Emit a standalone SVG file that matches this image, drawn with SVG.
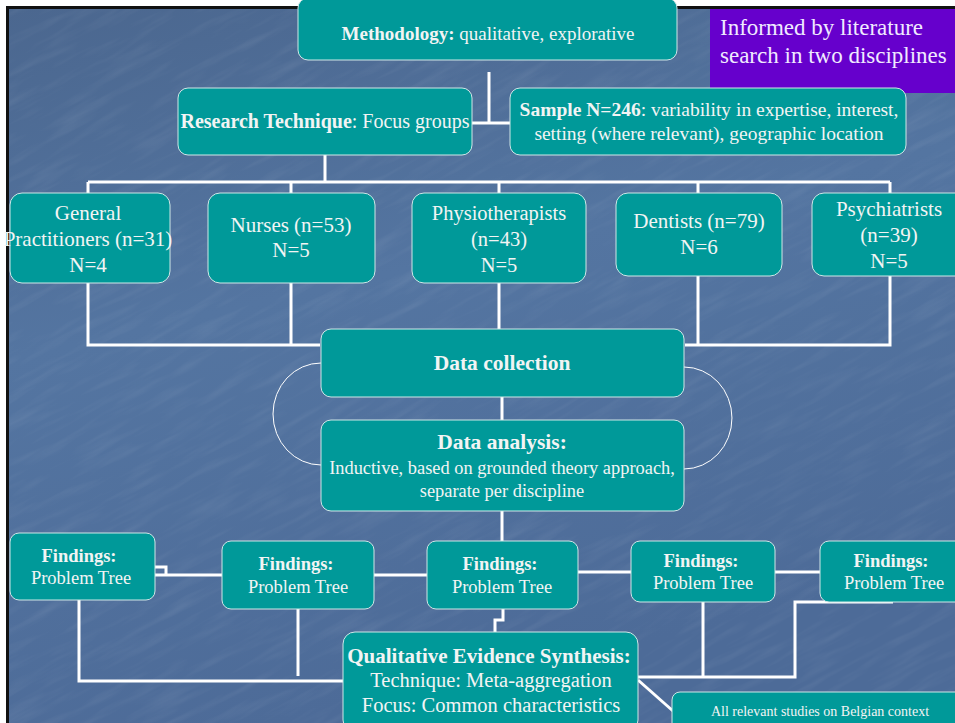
<svg xmlns="http://www.w3.org/2000/svg" width="955" height="723" viewBox="0 0 955 723">
<defs>
<linearGradient id="bg" x1="0" y1="0" x2="0.3" y2="1">
<stop offset="0" stop-color="#4b678f"/>
<stop offset="0.45" stop-color="#5475a1"/>
<stop offset="1" stop-color="#4d6b98"/>
</linearGradient>
<filter id="tex" x="0" y="0" width="100%" height="100%">
<feTurbulence type="fractalNoise" baseFrequency="0.015 0.12" numOctaves="3" seed="4" result="n"/>
<feColorMatrix type="matrix" values="0 0 0 0 1  0 0 0 0 1  0 0 0 0 1  0 0 0 -2.2 1.2"/>
</filter>
<style>
.box{fill:#009999;stroke:#cfe7e7;stroke-width:1}
.t{font-family:"Liberation Serif","Times New Roman",serif;fill:#f2f4f4;text-anchor:middle}
.b{font-weight:bold}
.c{fill:none;stroke:#ffffff;stroke-width:3}
.arc{fill:none;stroke:#ffffff;stroke-width:1}
</style>
</defs>
<rect x="0" y="0" width="955" height="723" fill="#ffffff"/>
<rect x="6" y="6" width="949" height="717" fill="#111111"/>
<rect x="9" y="9" width="946" height="714" fill="url(#bg)"/>
<svg x="9" y="9" width="946" height="714" overflow="hidden">
<g transform="rotate(-28 470 350)" opacity="0.06">
<rect x="-300" y="-300" width="1560" height="1330" filter="url(#tex)"/>
</g>
</svg>

<g id="connectors">
<path class="c" d="M489,72 V123 M472,123 H510"/>
<path class="c" d="M325,155 V182 M88,182 H890 M88,182 V193 M291,182 V193 M499,182 V193 M698,182 V193 M890,182 V193"/>
<path class="c" d="M88,283 V345 H320 M291,283 V345"/>
<path class="c" d="M499,283 V330"/>
<path class="c" d="M698,276 V345 H890 V276 M685,345 H698"/>
<path class="c" d="M502,397 V420"/>
<path class="arc" d="M321,363 A48,51 0 0,0 321,465"/>
<path class="arc" d="M684,367 A48,51 0 0,1 684,469"/>
<path class="c" d="M502,511 V541"/>
<path class="c" d="M155,567 H166 V575 M155,575 H222"/>
<path class="c" d="M374,575 H427"/>
<path class="c" d="M578,572 H631 M775,572 H820"/>
<path class="c" d="M79,600 V681 H343"/>
<path class="c" d="M298,609 V676"/>
<path class="c" d="M503,609 V620 H495 V632"/>
<path class="c" d="M703,602 V677 M638,677 H795 V602 H893"/>
<path class="c" d="M638,680 L673,711"/>
</g>

<g id="informed">
<rect x="710" y="9" width="245" height="84" fill="#6600cc"/>
<text x="720" y="35" font-family="Liberation Serif,serif" font-size="23" fill="#f0eaff">Informed by literature</text>
<text x="720" y="63" font-family="Liberation Serif,serif" font-size="23" fill="#f0eaff">search in two disciplines</text>
</g>

<g id="methodology">
<rect class="box" x="298" y="-2" width="379" height="62" rx="10"/>
<text class="t" x="488" y="40" font-size="19"><tspan class="b">Methodology:</tspan> qualitative, explorative</text>
</g>

<g id="technique">
<rect class="box" x="178" y="88" width="294" height="67" rx="10"/>
<text class="t" x="325" y="128" font-size="20"><tspan class="b">Research Technique</tspan>: Focus groups</text>
</g>

<g id="sample">
<rect class="box" x="510" y="88" width="396" height="67" rx="10"/>
<text class="t" x="709" y="116" font-size="19.5"><tspan class="b">Sample N=246</tspan>: variability in expertise, interest,</text>
<text class="t" x="709" y="140" font-size="19.5">setting (where relevant), geographic location</text>
</g>

<g id="gp">
<rect class="box" x="10" y="193" width="160" height="90" rx="12"/>
<text class="t" x="88" y="220" font-size="21">General</text>
<text class="t" x="88" y="246" font-size="21">Practitioners (n=31)</text>
<text class="t" x="88" y="272" font-size="21">N=4</text>
</g>

<g id="nurses">
<rect class="box" x="208" y="193" width="167" height="90" rx="12"/>
<text class="t" x="291" y="232" font-size="21">Nurses (n=53)</text>
<text class="t" x="291" y="257" font-size="21">N=5</text>
</g>

<g id="physio">
<rect class="box" x="412" y="193" width="174" height="90" rx="12"/>
<text class="t" x="499" y="220" font-size="20.5">Physiotherapists</text>
<text class="t" x="499" y="246" font-size="20.5">(n=43)</text>
<text class="t" x="499" y="272" font-size="20.5">N=5</text>
</g>

<g id="dentists">
<rect class="box" x="616" y="193" width="166" height="83" rx="12"/>
<text class="t" x="699" y="228" font-size="21">Dentists (n=79)</text>
<text class="t" x="699" y="254" font-size="21">N=6</text>
</g>

<g id="psychiatrists">
<rect class="box" x="812" y="193" width="155" height="83" rx="12"/>
<text class="t" x="889" y="216" font-size="21">Psychiatrists</text>
<text class="t" x="889" y="242" font-size="21">(n=39)</text>
<text class="t" x="889" y="268" font-size="21">N=5</text>
</g>

<g id="collection">
<rect class="box" x="321" y="329" width="363" height="68" rx="10"/>
<text class="t b" x="502" y="370" font-size="21.5">Data collection</text>
</g>

<g id="analysis">
<rect class="box" x="321" y="420" width="363" height="91" rx="10"/>
<text class="t b" x="502" y="449" font-size="21.5">Data analysis:</text>
<text class="t" x="502" y="474" font-size="18.4">Inductive, based on grounded theory approach,</text>
<text class="t" x="502" y="497" font-size="18.4">separate per discipline</text>
</g>

<g id="findings1">
<rect class="box" x="10" y="533" width="145" height="67" rx="9"/>
<text class="t b" x="79" y="562" font-size="18.5">Findings:</text>
<text class="t" x="81" y="584" font-size="18.5">Problem Tree</text>
</g>
<g id="findings2">
<rect class="box" x="222" y="541" width="152" height="68" rx="9"/>
<text class="t b" x="296" y="570" font-size="18.5">Findings:</text>
<text class="t" x="298" y="593" font-size="18.5">Problem Tree</text>
</g>
<g id="findings3">
<rect class="box" x="427" y="541" width="151" height="68" rx="9"/>
<text class="t b" x="500" y="570" font-size="18.5">Findings:</text>
<text class="t" x="502" y="593" font-size="18.5">Problem Tree</text>
</g>
<g id="findings4">
<rect class="box" x="631" y="541" width="144" height="61" rx="9"/>
<text class="t b" x="701" y="567" font-size="18.5">Findings:</text>
<text class="t" x="703" y="589" font-size="18.5">Problem Tree</text>
</g>
<g id="findings5">
<rect class="box" x="820" y="541" width="145" height="61" rx="9"/>
<text class="t b" x="891" y="567" font-size="18.5">Findings:</text>
<text class="t" x="894" y="589" font-size="18.5">Problem Tree</text>
</g>

<g id="synthesis">
<rect class="box" x="343" y="632" width="295" height="100" rx="12"/>
<text class="t b" x="489" y="663" font-size="21">Qualitative Evidence Synthesis:</text>
<text class="t" x="491" y="687" font-size="20.5">Technique: Meta-aggregation</text>
<text class="t" x="491" y="712" font-size="20.5">Focus: Common characteristics</text>
</g>

<g id="belgian">
<rect class="box" x="672" y="692" width="300" height="50" rx="8"/>
<text class="t" x="820" y="716" font-size="14">All relevant studies on Belgian context</text>
</g>
</svg>
